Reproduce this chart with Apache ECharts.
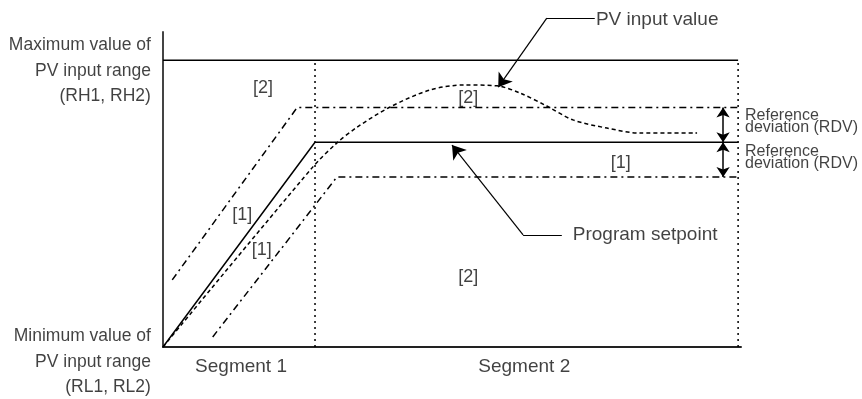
<!DOCTYPE html>
<html>
<head>
<meta charset="utf-8">
<script src="https://cdn.jsdelivr.net/npm/echarts@6/dist/echarts.min.js"></script>
<style>
  html, body { margin: 0; padding: 0; background: #fff; }
  #chart { width: 862px; height: 399px; }
</style>
</head>
<body>
<div id="chart"></div>
<script>
// values (x: 0..100 over time, y: 0..100 over PV range)
const rangeMax = 91
const segmentEdges = [26.3, 99.5]
const setpoint = [[0, 0], [26.3, 65], [99.5, 65]]
const upperDev = [[1.6, 21.3], [23.2, 76], [99.5, 76]]
const lowerDev = [[8.6, 3.2], [30.1, 54], [99.5, 54]]
const pvInput = [
  [0, 0], [25.9, 57.1], [30.1, 64.8], [33.6, 69.8], [39.3, 76.2], [46.2, 81.6],
  [52.2, 83.2], [57.8, 82.9], [61.8, 80.6], [66.4, 76.5], [70.9, 72.1],
  [76.8, 69.5], [82.5, 67.9], [92.4, 67.9]
]
const rdvArrows = [[[96.9, 76], [96.9, 65]], [[96.9, 65], [96.9, 54]]]
const pvPointer = [[74.7, 104.4], [66.4, 104.4], [58.0, 82.5]]
const spPointer = [[69.0, 35.6], [62.3, 35.6], [50.0, 64.1]]
const zoneLabels = [
  ['[2]', 17.3, 82.2], ['[2]', 52.8, 79.0], ['[1]', 79.2, 58.4],
  ['[1]', 13.7, 41.9], ['[1]', 17.1, 30.8], ['[2]', 52.8, 22.2]
]
const segmentLabels = [['Segment 1', 13.5, -6.3], ['Segment 2', 62.5, -6.3]]
const rangeLabels = [
  ['Maximum value of\nPV input range\n(RH1, RH2)', -2.1, 87.6],
  ['Minimum value of\nPV input range\n(RL1, RL2)', -2.1, -4.8]
]
const pointerLabels = [['PV input value', 74.9, 103.8], ['Program setpoint', 70.9, 35.6]]
const rdvLabels = [['Reference\ndeviation (RDV)', 100.7, 71.7], ['Reference\ndeviation (RDV)', 100.7, 60]]

const font = '"Liberation Sans", Arial, sans-serif'

function textSeries(items, label) {
  return {
    type: 'scatter',
    symbolSize: 0,
    clip: false,
    silent: true,
    data: items.map(function(it) {
      return { name: it[0], value: [it[1], it[2]] }
    }),
    label: Object.assign({
      show: true,
      position: 'inside',
      formatter: '{b}',
      color: '#111',
      fontFamily: font
    }, label)
  }
}

function plainLine(data, type, width) {
  return {
    type: 'line',
    data: data,
    symbol: 'none',
    clip: false,
    silent: true,
    lineStyle: { color: '#000', width: width, type: type }
  }
}

function arrowLines(segments, symbol, size, width) {
  return {
    type: 'lines',
    coordinateSystem: 'cartesian2d',
    clip: false,
    silent: true,
    symbol: symbol,
    symbolSize: size,
    lineStyle: { color: '#000', width: width, opacity: 1 },
    data: segments.map(function(c) { return { coords: c } })
  }
}

// pointer = leader segment + arrow segment
const leaders = [pvPointer, spPointer].map(function(p) { return [p[0], p[1]] })
const pointers = [pvPointer, spPointer].map(function(p) { return [p[1], p[2]] })

const chart = echarts.init(document.getElementById('chart'))
const option = {
  animation: false,
  grid: { left: 163, right: 121, top: 32, bottom: 52, outerBoundsMode: 'none' },
  xAxis: {
    type: 'value', min: 0, max: 100,
    axisLine: { show: true, lineStyle: { color: '#222', width: 2 } },
    axisTick: { show: false }, axisLabel: { show: false }, splitLine: { show: false }
  },
  yAxis: {
    type: 'value', min: 0, max: 100,
    axisLine: { show: true, lineStyle: { color: '#444', width: 2 } },
    axisTick: { show: false }, axisLabel: { show: false }, splitLine: { show: false }
  },
  series: [
    plainLine([[0, rangeMax], [segmentEdges[1], rangeMax]], 'solid', 1.5),
    plainLine([[segmentEdges[0], 0], [segmentEdges[0], rangeMax]], [2, 4], 1.5),
    plainLine([[segmentEdges[1], 0], [segmentEdges[1], rangeMax]], [2, 4], 1.5),
    plainLine(setpoint, 'solid', 1.5),
    plainLine(upperDev, [7, 4, 2, 4], 1.5),
    plainLine(lowerDev, [7, 4, 2, 4], 1.5),
    Object.assign(plainLine(pvInput, [4, 3], 1.5), { smooth: 0.3 }),
    arrowLines(leaders, ['none', 'none'], 1, 1.2),
    arrowLines(pointers, ['none', 'arrow'], 13, 1.2),
    arrowLines(rdvArrows, ['arrow', 'arrow'], 10, 1.5),
    textSeries(zoneLabels, { fontSize: 18 }),
    textSeries(segmentLabels, { fontSize: 19 }),
    textSeries(rangeLabels, { fontSize: 17.5, align: 'right', lineHeight: 25.5 }),
    textSeries(pointerLabels, { fontSize: 19, align: 'left' }),
    textSeries(rdvLabels, { fontSize: 16, align: 'left', lineHeight: 12 })
  ]
}
chart.setOption(option)
</script>
</body>
</html>
